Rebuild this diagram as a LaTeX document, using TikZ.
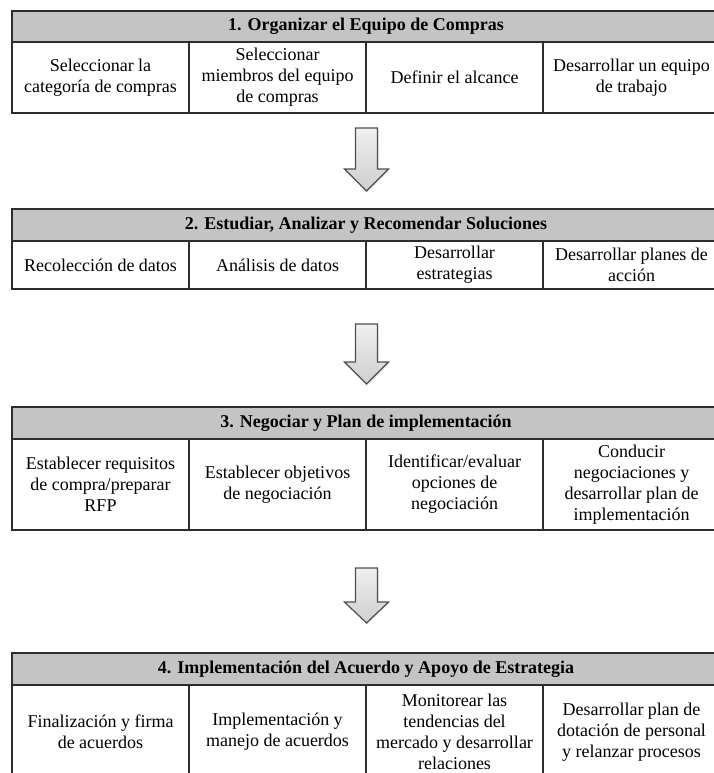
\documentclass[tikz,border=0pt]{standalone}
\usepackage{fontspec}
\setmainfont{Liberation Serif}
\usetikzlibrary{shadows}
\definecolor{headgray}{RGB}{196,196,196}
\definecolor{rulegray}{RGB}{45,45,45}
\definecolor{arrowline}{RGB}{78,78,78}

% block arrow pointing down: x centre, top of shaft, base of head, tip
\newcommand\downblock[4]{%
  \path[flowarrow] (#1-11,#2) -- (#1+11,#2) -- (#1+11,#3) -- (#1+22,#3)
    -- (#1,#4) -- (#1-22,#3) -- (#1-11,#3) -- cycle;}

\begin{document}
\begin{tikzpicture}[x=1pt,y=-1pt,
  box/.style={draw=rulegray, line width=1.3pt, inner sep=0pt, outer sep=0pt,
    anchor=north west},
  cell/.style={box, minimum width=177pt, align=center,
    font=\fontsize{18}{21}\selectfont},
  headcell/.style={box, fill=headgray, minimum width=708pt,
    font=\bfseries\fontsize{18}{21}\selectfont},
  flowarrow/.style={draw=arrowline, line width=1.2pt, line join=miter,
    top color=gray!12, bottom color=gray!38,
    drop shadow={opacity=0.18, shadow xshift=1pt, shadow yshift=-1.5pt}}]
\useasboundingbox (0,0) rectangle (714,773);
\clip (0,0) rectangle (714,773);

% Phase 1
\node[headcell, minimum height=31pt] (h1) at (12,11) {1. Organizar el Equipo de Compras};
\node[cell, minimum height=71pt] (a1) at (h1.south west) {Seleccionar la\\categoría de compras};
\node[cell, minimum height=71pt] (a2) at (a1.north east) {Seleccionar\\miembros del equipo\\de compras};
\node[cell, minimum height=71pt] (a3) at (a2.north east) {Definir el alcance};
\node[cell, minimum height=71pt] (a4) at (a3.north east) {Desarrollar un equipo\\de trabajo};

\downblock{366.5}{128}{169}{191}

% Phase 2
\node[headcell, minimum height=32pt] (h2) at (12,209) {2. Estudiar, Analizar y Recomendar Soluciones};
\node[cell, minimum height=48pt] (b1) at (h2.south west) {Recolección de datos};
\node[cell, minimum height=48pt] (b2) at (b1.north east) {Análisis de datos};
\node[cell, minimum height=48pt] (b3) at (b2.north east) {Desarrollar\\estrategias};
\node[cell, minimum height=48pt] (b4) at (b3.north east) {Desarrollar planes de\\acción};

\downblock{366.5}{324}{362}{384}

% Phase 3
\node[headcell, minimum height=32pt] (h3) at (12,407) {3. Negociar y Plan de implementación};
\node[cell, minimum height=91pt] (c1) at (h3.south west) {Establecer requisitos\\de compra/preparar\\RFP};
\node[cell, minimum height=91pt] (c2) at (c1.north east) {Establecer objetivos\\de negociación};
\node[cell, minimum height=91pt] (c3) at (c2.north east) {Identificar/evaluar\\opciones de\\negociación};
\node[cell, minimum height=91pt] (c4) at (c3.north east) {Conducir\\negociaciones y\\desarrollar plan de\\implementación};

\downblock{366.5}{568}{602}{623}

% Phase 4 (its lower edge lies below the page)
\node[headcell, minimum height=32pt] (h4) at (12,653) {4. Implementación del Acuerdo y Apoyo de Estrategia};
\node[cell, minimum height=94pt] (d1) at (h4.south west) {Finalización y firma\\de acuerdos};
\node[cell, minimum height=94pt] (d2) at (d1.north east) {Implementación y\\manejo de acuerdos};
\node[cell, minimum height=94pt] (d3) at (d2.north east) {Monitorear las\\tendencias del\\mercado y desarrollar\\relaciones};
\node[cell, minimum height=94pt] (d4) at (d3.north east) {Desarrollar plan de\\dotación de personal\\y relanzar procesos};
\end{tikzpicture}
\end{document}
